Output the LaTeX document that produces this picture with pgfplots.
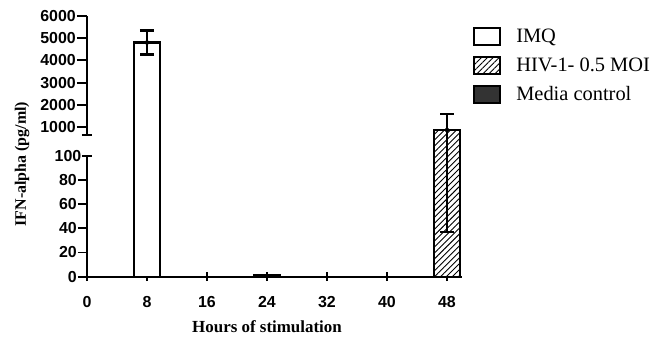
\documentclass[border=0pt]{standalone}
\usepackage{fontspec}
\setmainfont{Liberation Serif}
\setsansfont{Liberation Sans}
\usepackage{pgfplots}
\pgfplotsset{compat=1.18}
\usetikzlibrary{patterns.meta}
\definecolor{darkbar}{gray}{0.2}
\begin{document}
\begin{tikzpicture}
\useasboundingbox (0,0) rectangle (662bp,337bp);
\pgfplotsset{
  common/.style={
    scale only axis, width=375bp,
    xmin=0, xmax=50, enlargelimits=false,
    /pgf/number format/assume math mode=true,
    /pgf/number format/1000 sep={},
    tick label style={font=\sffamily\bfseries\fontsize{16}{16}\selectfont, black},
    tick style={line width=1.9bp, black},
    axis line style={line width=2.3bp, black},
  },
  legbox/.style={draw=black, line width=2.2bp,
    legend image code/.code={\draw[##1, line width=2.2bp] (0bp,-8.5bp) rectangle (26bp,8.5bp);}},
  mybar/.style={ybar, bar width=26bp, bar shift=0pt, draw=black, line width=2.1bp},
  hatch/.style={postaction={pattern={Lines[angle=45,distance=4.2bp,line width=0.9bp]}}},
  outline/.style={draw=black, line width=2.1bp, line join=miter, forget plot},
  eb/.style={/pgfplots/error bars/y dir=both, /pgfplots/error bars/y explicit,
    /pgfplots/error bars/error bar style={line width=2.6bp, draw=black},
    /pgfplots/error bars/error mark options={rotate=90, mark size=7bp, line width=2.6bp, draw=black}},
}
% lower segment
\begin{axis}[common, at={(87bp,60.3bp)}, anchor=south west, height=141.6bp,
  ymin=0, ymax=117,
  axis x line*=bottom, axis y line*=left,
  y axis line style={shorten >=20.6bp},
  xtick={0,8,...,48}, ytick={0,20,40,60,80},
  extra y ticks={100}, extra y tick style={ytick align=center},
  xtick align=center, ytick align=outside, major tick length=9bp,
  yticklabel style={inner sep=1bp},
  xticklabel style={inner sep=1bp, yshift=-14bp},
  xlabel={\bfseries\fontsize{17}{17}\selectfont Hours of stimulation},
  x label style={at={(axis description cs:0.48,-0.355)}, anchor=center},
  ylabel={\bfseries\fontsize{16}{16}\selectfont IFN-alpha (pg/ml)},
  y label style={at={(axis description cs:-0.1733,0.796)}, anchor=center},
]
\addplot[mybar, fill=white, eb] coordinates {(8,4800) +- (0,540)};
\addplot[mybar, fill=darkbar] coordinates {(24,1)};
\addplot[mybar, fill=white, hatch, eb] coordinates {(48,880) += (0,720) -= (0,843)};
\end{axis}
% upper segment
\begin{axis}[common, at={(87bp,202bp)}, anchor=south west, height=119.3bp,
  ymin=655, ymax=6000,
  axis x line=none, axis y line*=left, xtick=\empty,
  ytick={1000,2000,...,6000}, ytick align=outside, major tick length=10bp,
  extra y ticks={655}, extra y tick labels={}, extra y tick style={ytick align=center},
  yticklabel style={inner sep=1bp},
  legend style={at={(1.029,0.91)}, anchor=north west, draw=none, fill=none,
    font=\fontsize{20.5}{20.5}\selectfont, row sep=10bp, inner sep=0pt,
    nodes={inner sep=1bp},
    /tikz/every odd column/.append style={column sep=14bp}},
  legend cell align=left,
]
% bar bodies continuing from the lower segment (open at the bottom)
\addplot[outline, fill=white] coordinates {(6.267,0) (6.267,4800) (9.733,4800) (9.733,0)};
\addplot[outline, fill=white, hatch] coordinates {(46.267,0) (46.267,880) (49.733,880) (49.733,0)};
\addplot[only marks, mark=none, eb, forget plot] coordinates {(8,4800) +- (0,540)};
\addplot[only marks, mark=none, eb, forget plot] coordinates {(48,880) += (0,720) -= (0,843)};
\addlegendimage{legbox, fill=white}
\addlegendentry{IMQ}
\addlegendimage{legbox, fill=white, hatch}
\addlegendentry{HIV-1- 0.5 MOI}
\addlegendimage{legbox, fill=darkbar}
\addlegendentry{Media control}
\end{axis}
\end{tikzpicture}
\end{document}
